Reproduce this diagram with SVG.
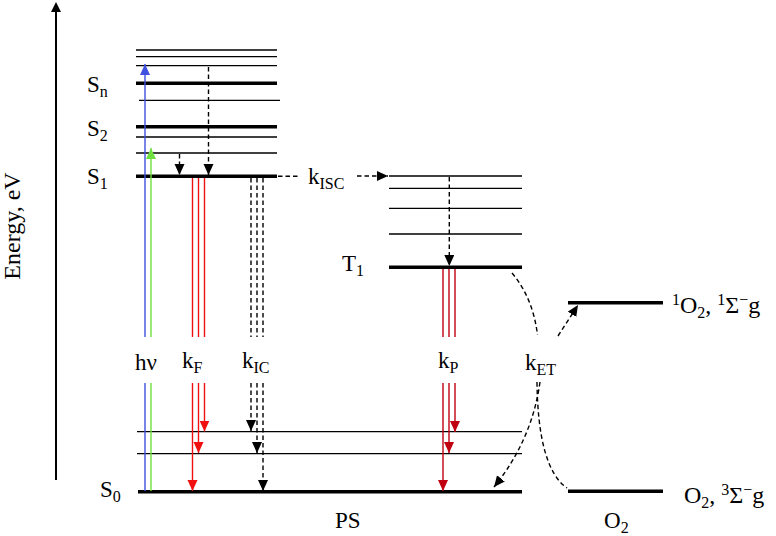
<svg xmlns="http://www.w3.org/2000/svg" width="776" height="536" viewBox="0 0 776 536">
<style>
text{font-family:"Liberation Serif","Times New Roman",serif;font-size:23px;fill:#000}
.big{font-size:24px}
.sub{font-size:16px}
.thin{stroke:#000;stroke-width:1.3;fill:none}
.thick{stroke:#000;stroke-width:3.5;fill:none}
.dash{stroke:#000;stroke-width:1.4;fill:none;stroke-dasharray:4.5 3}
.red{stroke:#f01010;stroke-width:1.4;fill:none}
.dred{stroke:#c00010;stroke-width:1.4;fill:none}
.blue{stroke:#4050e0;stroke-width:1.4;fill:none}
.green{stroke:#70e040;stroke-width:1.4;fill:none}
</style>
<defs>
<marker id="ak" markerUnits="userSpaceOnUse" markerWidth="12" markerHeight="11" refX="11" refY="5" orient="auto"><path d="M0,0 L11,5 L0,10 z" fill="#000"/></marker>
<marker id="ar" markerUnits="userSpaceOnUse" markerWidth="12" markerHeight="11" refX="11" refY="5" orient="auto"><path d="M0,0 L11,5 L0,10 z" fill="#f01010"/></marker>
<marker id="ad" markerUnits="userSpaceOnUse" markerWidth="12" markerHeight="11" refX="11" refY="5" orient="auto"><path d="M0,0 L11,5 L0,10 z" fill="#c00010"/></marker>
<marker id="ab" markerUnits="userSpaceOnUse" markerWidth="12" markerHeight="11" refX="11" refY="5" orient="auto"><path d="M0,0 L11,5 L0,10 z" fill="#4050e0"/></marker>
<marker id="ag" markerUnits="userSpaceOnUse" markerWidth="12" markerHeight="11" refX="11" refY="5" orient="auto"><path d="M0,0 L11,5 L0,10 z" fill="#70e040"/></marker>
</defs>

<g id="axis">
<line x1="56" y1="480" x2="56" y2="10" stroke="#000" stroke-width="2"/>
<polygon points="56,2 51,12 61,12" fill="#000"/>
<text class="big" transform="translate(20,226) rotate(-90)" text-anchor="middle">Energy, eV</text>
</g>

<g id="singlet-levels">
<line class="thin" x1="136" y1="50" x2="277" y2="50"/>
<line class="thin" x1="136" y1="56.7" x2="277" y2="56.7"/>
<line class="thin" x1="136" y1="65.7" x2="277" y2="65.7"/>
<line class="thick" x1="136" y1="83.3" x2="277" y2="83.3"/>
<line class="thin" x1="139" y1="100.3" x2="280" y2="100.3"/>
<line class="thick" x1="136" y1="126.7" x2="277" y2="126.7"/>
<line class="thin" x1="136" y1="137" x2="277" y2="137"/>
<line class="thin" x1="136" y1="153" x2="277" y2="153"/>
<line class="thick" x1="136" y1="176.3" x2="277" y2="176.3"/>
<text x="87" y="92">S<tspan class="sub" dy="5">n</tspan></text>
<text x="87" y="136">S<tspan class="sub" dy="5">2</tspan></text>
<text x="87" y="184">S<tspan class="sub" dy="5">1</tspan></text>
</g>

<g id="ground-levels">
<line class="thin" x1="137" y1="431.7" x2="522" y2="431.7"/>
<line class="thin" x1="137" y1="453.7" x2="522" y2="453.7"/>
<line class="thick" x1="138" y1="491.7" x2="522" y2="491.7"/>
<text x="100" y="497">S<tspan class="sub" dy="5">0</tspan></text>
<text x="335" y="528">PS</text>
</g>

<g id="triplet-levels">
<line class="thin" x1="389" y1="176" x2="522" y2="176"/>
<line class="thin" x1="389" y1="188.3" x2="522" y2="188.3"/>
<line class="thin" x1="389" y1="208.3" x2="522" y2="208.3"/>
<line class="thin" x1="389" y1="234" x2="522" y2="234"/>
<line class="thick" x1="389" y1="267.3" x2="522" y2="267.3"/>
<text x="342" y="271">T<tspan class="sub" dy="5">1</tspan></text>
</g>

<g id="oxygen-levels">
<line class="thick" x1="568" y1="302.7" x2="663" y2="302.7"/>
<line class="thick" x1="568" y1="491.2" x2="663" y2="491.2"/>
<text class="big" x="672" y="313"><tspan class="sub" dy="-8">1</tspan><tspan dy="8">O</tspan><tspan class="sub" dy="5">2</tspan><tspan dy="-5">, </tspan><tspan class="sub" dy="-8">1</tspan><tspan dy="8">Σ</tspan><tspan class="sub" dy="-8">−</tspan><tspan dy="8">g</tspan></text>
<text class="big" x="684" y="503">O<tspan class="sub" dy="5">2</tspan><tspan dy="-5">, </tspan><tspan class="sub" dy="-8">3</tspan><tspan dy="8">Σ</tspan><tspan class="sub" dy="-8">−</tspan><tspan dy="8">g</tspan></text>
<text x="604" y="528">O<tspan class="sub" dy="5">2</tspan></text>
</g>

<g id="connectors">
<line class="blue" x1="145" y1="491" x2="145" y2="383"/>
<line class="blue" x1="145" y1="337" x2="145" y2="64" marker-end="url(#ab)"/>
<line class="green" x1="151" y1="491" x2="151" y2="383"/>
<line class="green" x1="151" y1="337" x2="151" y2="148" marker-end="url(#ag)"/>
<text x="135" y="370">hν</text>
<line class="dash" x1="179.5" y1="154" x2="179.5" y2="175" marker-end="url(#ak)"/>
<line class="dash" x1="208.5" y1="67" x2="208.5" y2="175" marker-end="url(#ak)"/>
<line class="red" x1="192.5" y1="178" x2="192.5" y2="337"/>
<line class="red" x1="198.5" y1="178" x2="198.5" y2="337"/>
<line class="red" x1="204.5" y1="178" x2="204.5" y2="337"/>
<line class="red" x1="192.5" y1="383" x2="192.5" y2="491" marker-end="url(#ar)"/>
<line class="red" x1="198.5" y1="383" x2="198.5" y2="453" marker-end="url(#ar)"/>
<line class="red" x1="204.5" y1="383" x2="204.5" y2="431.5" marker-end="url(#ar)"/>
<text x="182" y="368">k<tspan class="sub" dy="5">F</tspan></text>
<line class="dash" x1="251" y1="178" x2="251" y2="337"/>
<line class="dash" x1="257" y1="178" x2="257" y2="337"/>
<line class="dash" x1="263" y1="178" x2="263" y2="337"/>
<line class="dash" x1="251" y1="383" x2="251" y2="431" marker-end="url(#ak)"/>
<line class="dash" x1="257" y1="383" x2="257" y2="453" marker-end="url(#ak)"/>
<line class="dash" x1="263" y1="383" x2="263" y2="491" marker-end="url(#ak)"/>
<text x="242" y="368">k<tspan class="sub" dy="5">IC</tspan></text>
<line class="dash" x1="278" y1="176.3" x2="300" y2="176.3"/>
<text x="308" y="184">k<tspan class="sub" dy="5">ISC</tspan></text>
<line class="dash" x1="357" y1="176" x2="388" y2="176" marker-end="url(#ak)"/>
<line class="dash" x1="449.3" y1="177" x2="449.3" y2="266" marker-end="url(#ak)"/>
<line class="dred" x1="443" y1="269" x2="443" y2="337"/>
<line class="dred" x1="449" y1="269" x2="449" y2="337"/>
<line class="dred" x1="455" y1="269" x2="455" y2="337"/>
<line class="dred" x1="443" y1="383" x2="443" y2="491" marker-end="url(#ad)"/>
<line class="dred" x1="449" y1="383" x2="449" y2="453" marker-end="url(#ad)"/>
<line class="dred" x1="455" y1="383" x2="455" y2="432" marker-end="url(#ad)"/>
<text x="438" y="368">k<tspan class="sub" dy="5">P</tspan></text>
<path class="dash" d="M512,273 Q533,298 537.5,335"/>
<path class="dash" d="M558,336 L578,305" marker-end="url(#ak)"/>
<text x="525" y="370">k<tspan class="sub" dy="5">ET</tspan></text>
<path class="dash" d="M540,382 Q532,440 494,487" marker-end="url(#ak)"/>
<path class="dash" d="M537,382 Q538,468 567,488"/>
</g>
</svg>
